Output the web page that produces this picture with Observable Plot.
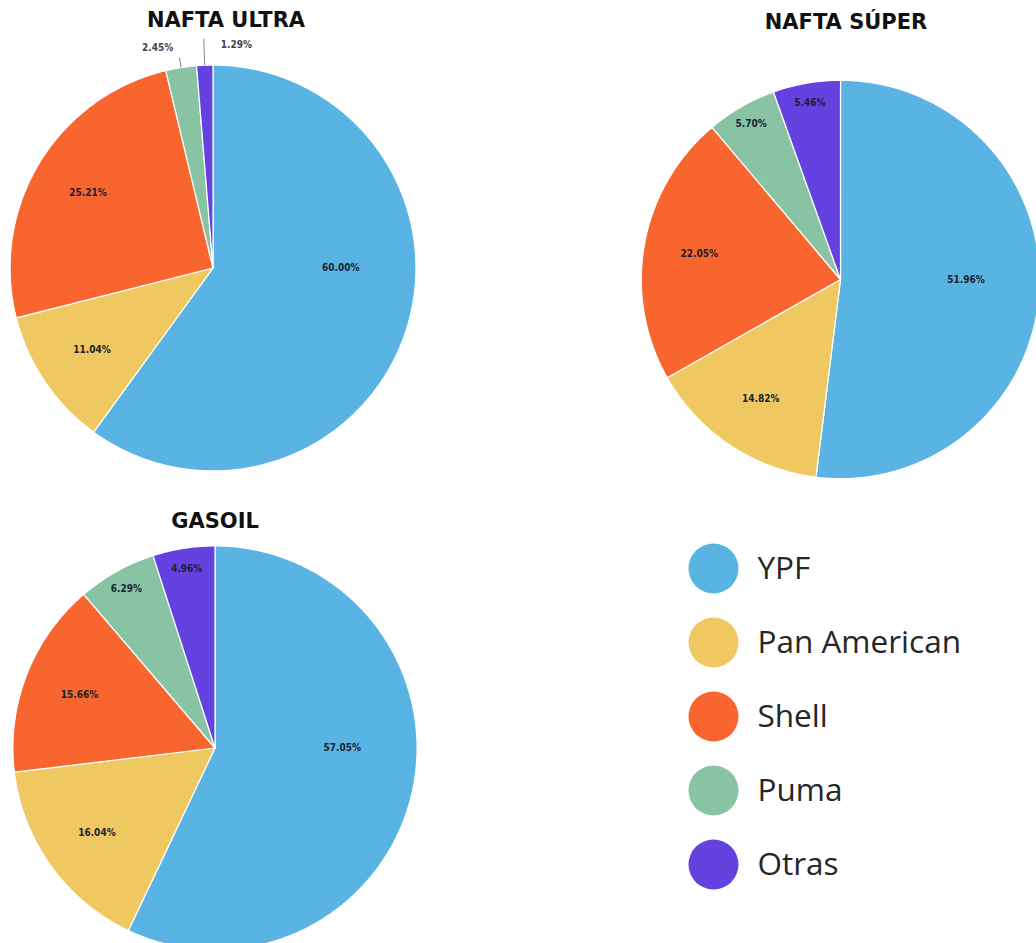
<!DOCTYPE html>
<html><head><meta charset="utf-8">
<script src="https://cdn.jsdelivr.net/npm/d3@7"></script>
<script src="https://cdn.jsdelivr.net/npm/@observablehq/plot@0.6"></script>
<style>
html,body{margin:0;padding:0;background:#fff;width:1036px;height:943px;overflow:hidden;position:relative}
.box{position:absolute}
.box svg{max-width:none !important}
.title{position:absolute;font-family:"DejaVu Sans",sans-serif;font-weight:bold;font-size:21px;color:#111;transform:translate(-50%,-50%);white-space:nowrap;z-index:5}
</style></head><body>
<script>
// ---- data ----
const companies = ["YPF", "Pan American", "Shell", "Puma", "Otras"];
const colors = ["#5ab4e3", "#f0c862", "#f8652f", "#88c4a4", "#6442e0"];
const titles = ["NAFTA ULTRA", "NAFTA SÚPER", "GASOIL"];
const naftaUltra = [60.00, 11.04, 25.21, 2.45, 1.29];
const naftaSuper = [51.96, 14.82, 22.05, 5.70, 5.46];
const gasoil = [57.05, 16.04, 15.66, 6.29, 4.96];

// ---- layout ----
const layout = [
  {values: naftaUltra, title: titles[0], cx: 213, cy: 268, r: 203, tx: 226, ty: 20},
  {values: naftaSuper, title: titles[1], cx: 840, cy: 279, r: 199, tx: 846, ty: 22},
  {values: gasoil,     title: titles[2], cx: 214, cy: 747, r: 202, tx: 215, ty: 521}
];
const EXT = 1.2;

function pieGeometry(values) {
  const total = d3.sum(values);
  let acc = 0;
  const pts = [], inside = [], outside = [], leaders = [];
  values.forEach((v, i) => {
    const name = companies[i];
    const a0 = acc / total * 2 * Math.PI; acc += v;
    const a1 = acc / total * 2 * Math.PI;
    const n = Math.max(2, Math.ceil((a1 - a0) / (Math.PI / 360)));
    pts.push({name, x: 0, y: 0});
    for (let k = 0; k <= n; k++) {
      const a = a0 + (a1 - a0) * k / n;
      pts.push({name, x: Math.sin(a), y: Math.cos(a)});
    }
    pts.push({name, x: 0, y: 0});
    let mid = (a0 + a1) / 2;
    const text = v.toFixed(2) + "%";
    if (v < 3) {
      const s = Math.sin(mid), c = Math.cos(mid);
      const nearVertical = Math.abs(s) < 0.05;
      const L = nearVertical ? 1.13 : 1.05;
      leaders.push({x1: s, y1: c, x2: L * s, y2: L * c});
      const lx = 1.1 * s + (nearVertical ? 0.16 : -0.1);
      outside.push({x: lx, y: 1.1 * c, text});
    } else {
      // a slice wider than a half turn gets its label in the middle of its part on the first half turn
      if (a1 - a0 > Math.PI) mid = (a0 + Math.min(a1, Math.PI)) / 2;
      const f = v < 8 ? 0.9 : (v < 50 ? 0.72 : 0.63);
      inside.push({x: f * Math.sin(mid), y: f * Math.cos(mid), text});
    }
  });
  return {pts, inside, outside, leaders};
}

for (const p of layout) {
  const g = pieGeometry(p.values);
  const size = Math.round(2 * EXT * p.r);
  const chart = Plot.plot({
    width: size, height: size, margin: 0, inset: 0,
    style: {background: "transparent", overflow: "visible", maxWidth: "none"},
    x: {domain: [-EXT, EXT], axis: null},
    y: {domain: [-EXT, EXT], axis: null},
    color: {type: "ordinal", domain: companies, range: colors},
    marks: [
      Plot.line(g.pts, {x: "x", y: "y", z: "name", fill: "name", stroke: "white", strokeWidth: 1.2, strokeLinejoin: "round"}),
      Plot.link(g.leaders, {x1: "x1", y1: "y1", x2: "x2", y2: "y2", stroke: "#666", strokeWidth: 0.8}),
      Plot.text(g.inside, {x: "x", y: "y", text: "text", fontSize: 10, fontWeight: "bold", fontFamily: "DejaVu Sans Condensed, DejaVu Sans", fill: "#1a2330"}),
      Plot.text(g.outside, {x: "x", y: "y", text: "text", fontSize: 10, fontWeight: "bold", fontFamily: "DejaVu Sans Condensed, DejaVu Sans", fill: "#444"})
    ]
  });
  const div = document.createElement("div");
  div.className = "box";
  div.style.left = (p.cx - EXT * p.r) + "px";
  div.style.top = (p.cy - EXT * p.r) + "px";
  div.style.width = size + "px";
  div.appendChild(chart);
  document.body.appendChild(div);
  const t = document.createElement("div");
  t.className = "title";
  t.textContent = p.title;
  t.style.left = p.tx + "px";
  t.style.top = p.ty + "px";
  document.body.appendChild(t);
}

// ---- legend ----
const legend = Plot.plot({
  width: 340, height: 370, margin: 0,
  style: {background: "transparent", overflow: "visible", maxWidth: "none"},
  y: {type: "point", domain: companies, axis: null, padding: 0.5},
  color: {type: "ordinal", domain: companies, range: colors},
  marks: [
    Plot.dot(companies, {y: d => d, frameAnchor: "left", dx: 33, r: 25, fill: d => d}),
    Plot.text(companies, {y: d => d, text: d => d, frameAnchor: "left", dx: 77, textAnchor: "start", fontSize: 31.5, fontFamily: "Open Sans", fill: "#262626"})
  ]
});
const ld = document.createElement("div");
ld.className = "box";
ld.style.left = "680px";
ld.style.top = "531px";
ld.appendChild(legend);
document.body.appendChild(ld);
</script>
</body></html>
